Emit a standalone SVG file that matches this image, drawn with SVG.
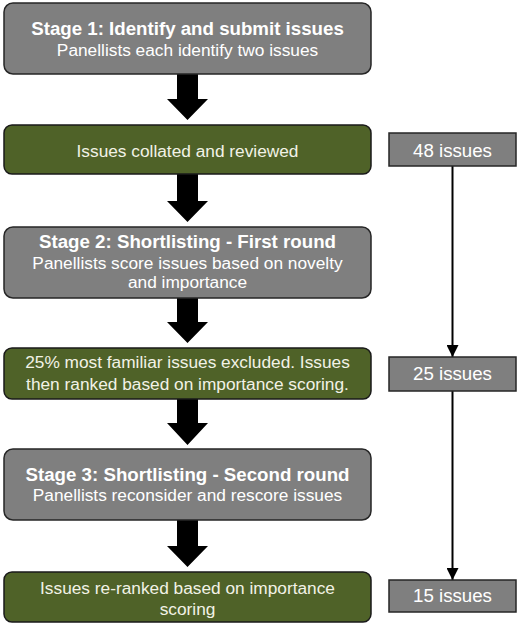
<svg xmlns="http://www.w3.org/2000/svg" width="520" height="624" viewBox="0 0 520 624">
<style>
.stage{fill:#7f7f7f;stroke:#262626;stroke-width:1.5}
.green{fill:#4f6228;stroke:#1a1a1a;stroke-width:1.5}
.count{fill:#7f7f7f;stroke:#262626;stroke-width:1.5}
text{font-family:"Liberation Sans",Arial,sans-serif;text-anchor:middle;fill:#ffffff}
.t{font-size:18.7px;font-weight:bold}
.s{font-size:17.3px}
.c{font-size:18.7px}
.g{font-size:17.3px;fill:#f2f2e6}
.big{fill:#000000}
.line{stroke:#000000;stroke-width:2;fill:none}
</style>
<defs>
<marker id="ah" viewBox="0 0 12 12" markerWidth="12" markerHeight="12" refX="12" refY="6" orient="auto" markerUnits="userSpaceOnUse">
<path d="M0,0 L12,6 L0,12 Z" fill="#000"/>
</marker>
</defs>
<g id="connectors">
<path class="big" d="M177,74 H198 V99 H208 L187.5,120 L167,99 H177 Z"/>
<path class="big" d="M177,174 H198 V201 H208 L187.5,222 L167,201 H177 Z"/>
<path class="big" d="M177,298 H198 V322 H208 L187.5,343 L167,322 H177 Z"/>
<path class="big" d="M177,399 H198 V423 H208 L187.5,445 L167,423 H177 Z"/>
<path class="big" d="M177,520 H198 V546 H208 L187.5,567 L167,546 H177 Z"/>
<line class="line" x1="452.5" y1="166" x2="452.5" y2="357" marker-end="url(#ah)"/>
<line class="line" x1="452.5" y1="391" x2="452.5" y2="580" marker-end="url(#ah)"/>
</g>
<g id="stage1">
<rect class="stage" x="4" y="3" width="367" height="71" rx="9"/>
<text class="t" x="187.5" y="35">Stage 1: Identify and submit issues</text>
<text class="s" x="187.5" y="56">Panellists each identify two issues</text>
</g>
<g id="collated">
<rect class="green" x="4" y="125" width="367" height="49" rx="8"/>
<text class="g" x="187.5" y="157">Issues collated and reviewed</text>
</g>
<g id="count48">
<rect class="count" x="389" y="133" width="127" height="33"/>
<text class="c" x="452.5" y="157">48 issues</text>
</g>
<g id="stage2">
<rect class="stage" x="4" y="227" width="367" height="71" rx="9"/>
<text class="t" x="187.5" y="248">Stage 2: Shortlisting - First round</text>
<text class="s" x="187.5" y="269">Panellists score issues based on novelty</text>
<text class="s" x="187.5" y="288">and importance</text>
</g>
<g id="excluded">
<rect class="green" x="4" y="348" width="367" height="51" rx="8"/>
<text class="g" x="187.5" y="368">25% most familiar issues excluded. Issues</text>
<text class="g" x="187.5" y="390">then ranked based on importance scoring.</text>
</g>
<g id="count25">
<rect class="count" x="389" y="357" width="127" height="34"/>
<text class="c" x="452.5" y="380">25 issues</text>
</g>
<g id="stage3">
<rect class="stage" x="4" y="449" width="367" height="71" rx="9"/>
<text class="t" x="187.5" y="481">Stage 3: Shortlisting - Second round</text>
<text class="s" x="187.5" y="501">Panellists reconsider and rescore issues</text>
</g>
<g id="reranked">
<rect class="green" x="4" y="572" width="367" height="50" rx="8"/>
<text class="g" x="187.5" y="594">Issues re-ranked based on importance</text>
<text class="g" x="187.5" y="615">scoring</text>
</g>
<g id="count15">
<rect class="count" x="389" y="580" width="127" height="32"/>
<text class="c" x="452.5" y="602">15 issues</text>
</g>
</svg>
